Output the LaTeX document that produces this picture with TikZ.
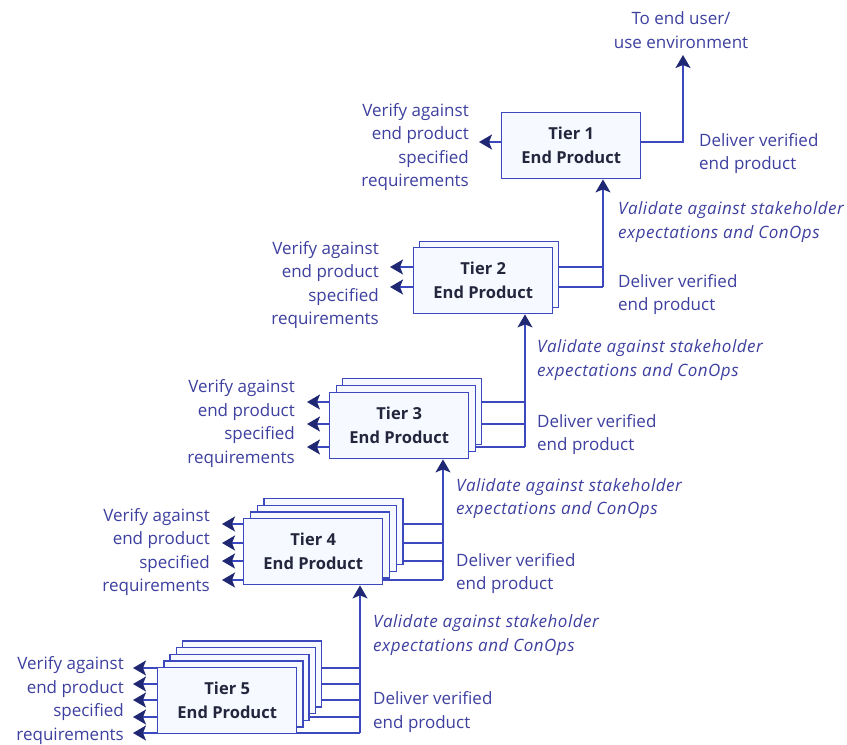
\documentclass[tikz,border=0pt]{standalone}
\usepackage{fontspec}
\setmainfont{Open Sans}
\newfontfamily\valfont{Open Sans}[LetterSpace=3]
\usetikzlibrary{arrows.meta,calc}
\definecolor{lineblue}{RGB}{60,72,190}
\definecolor{headblue}{RGB}{32,40,115}
\definecolor{txtblue}{RGB}{62,64,160}
\definecolor{boxfill}{RGB}{246,249,255}
\definecolor{inktxt}{RGB}{35,38,60}
\pgfdeclarelayer{back}
\pgfsetlayers{back,main}
\begin{document}
\begin{tikzpicture}[x=1pt,y=-1pt,
  tierbox/.style={draw=lineblue, fill=boxfill, line width=1.4pt,
    minimum width=139pt, minimum height=66pt, anchor=north west, inner sep=0pt},
  tiertxt/.style={font=\fontsize{16.5}{24}\selectfont\bfseries, text=inktxt, align=center},
  link/.style={draw=lineblue, line width=1.4pt},
  arr/.style={link, -{Stealth[length=13pt,width=15pt,inset=3pt,color=headblue]}},
  note/.style={font=\fontsize{17}{23.5}\selectfont, text=txtblue, inner sep=0pt},
  vnote/.style={note, align=right, anchor=east},
  dnote/.style={note, align=left, anchor=west},
  inote/.style={note, align=left, anchor=west, font=\valfont\fontsize{17}{23.5}\selectfont\itshape},
]
\useasboundingbox (0,0) rectangle (847,745);

% ---- tier boxes, drawn back to front ----
\node[tierbox,tiertxt] (t1) at (501,112) {Tier 1\\End Product};

\node[tierbox] (t2s1) at (419,241) {};
\node[tierbox,tiertxt] (t2) at (413,247) {Tier 2\\End Product};

\foreach \k in {2,1}
  \node[tierbox] (t3s\k) at (329+6.5*\k, 392-7*\k) {};
\node[tierbox,tiertxt] (t3) at (329,392) {Tier 3\\End Product};

\foreach \k in {3,2,1}
  \node[tierbox] (t4s\k) at (243+6.8*\k, 518-6.7*\k) {};
\node[tierbox,tiertxt] (t4) at (243,518) {Tier 4\\End Product};

\foreach \k in {4,3,2,1}
  \node[tierbox] (t5s\k) at (157+6.2*\k, 667-6.7*\k) {};
\node[tierbox,tiertxt] (t5) at (157,667) {Tier 5\\End Product};

% ---- junction points of the delivery lines ----
\coordinate (j1) at (683,142);
\coordinate (j2) at (603,287);
\coordinate (j3) at (525,447);
\coordinate (j4) at (443,580);
\coordinate (j5) at (360,733);
\coordinate (user) at (683,55);

% ---- connectors, kept behind the boxes ----
\begin{pgfonlayer}{back}
  \fill[white] (0,0) rectangle (847,745);
  % tier 1
  \draw[arr] (t1.center |- j1) -- ($(t1.west |- j1)+(-22,0)$);
  \draw[arr] (t1.center |- j1) -- (j1) -- (user);
  % tier 2
  \foreach \y in {267,287} {
    \draw[arr] (t2.center |- 0,\y) -- ($(t2.west |- 0,\y)+(-23,0)$);
    \draw[link] (t2.center |- 0,\y) -- (j2 |- 0,\y);
  }
  \draw[arr] (j2) -- (j2 |- t1.south);
  % tier 3
  \foreach \y in {402,424,447} {
    \draw[arr] (t3.center |- 0,\y) -- ($(t3.west |- 0,\y)+(-22,0)$);
    \draw[link] (t3.center |- 0,\y) -- (j3 |- 0,\y);
  }
  \draw[arr] (j3) -- (j3 |- t2.south);
  % tier 4
  \foreach \y in {524,543,561,580} {
    \draw[arr] (t4.center |- 0,\y) -- ($(t4.west |- 0,\y)+(-21,0)$);
    \draw[link] (t4.center |- 0,\y) -- (j4 |- 0,\y);
  }
  \draw[arr] (j4) -- (j4 |- t3.south);
  % tier 5
  \foreach \y in {668,684,700,717,733} {
    \draw[arr] (t5.center |- 0,\y) -- ($(t5.west |- 0,\y)+(-24,0)$);
    \draw[link] (t5.center |- 0,\y) -- (j5 |- 0,\y);
  }
  \draw[arr] (j5) -- (j5 |- t4.south);
\end{pgfonlayer}

% ---- labels ----
\node[note, align=center] (enduser) at (681,30) {To end user/\\use environment};

\node[vnote] (v1) at (469,147) {Verify against\\end product\\specified\\requirements};
\node[vnote] (v2) at (379,285) {Verify against\\end product\\specified\\requirements};
\node[vnote] (v3) at (295,423.5) {Verify against\\end product\\specified\\requirements};
\node[vnote] (v4) at (210,552) {Verify against\\end product\\specified\\requirements};
\node[vnote] (v5) at (124,700.5) {Verify against\\end product\\specified\\requirements};

\node[dnote] (d1) at (699,153.5) {Deliver verified\\end product};
\node[dnote] (d2) at (618,294.5) {Deliver verified\\end product};
\node[dnote] (d3) at (537,434.5) {Deliver verified\\end product};
\node[dnote] (d4) at (456,573.5) {Deliver verified\\end product};
\node[dnote] (d5) at (373,712) {Deliver verified\\end product};

\node[inote] (c2) at (618,222) {Validate against stakeholder\\expectations and ConOps};
\node[inote] (c3) at (537,360) {Validate against stakeholder\\expectations and ConOps};
\node[inote] (c4) at (456,498.5) {Validate against stakeholder\\expectations and ConOps};
\node[inote] (c5) at (373,635) {Validate against stakeholder\\expectations and ConOps};
\end{tikzpicture}
\end{document}
